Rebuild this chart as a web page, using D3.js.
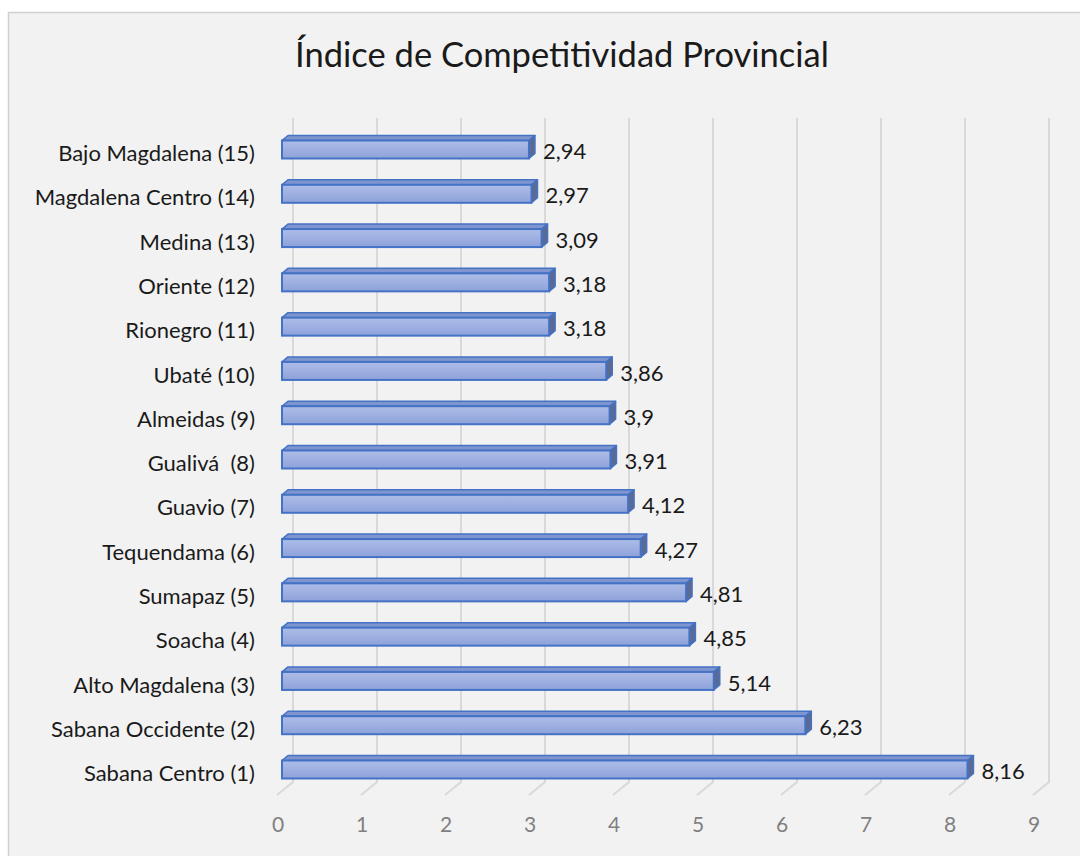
<!DOCTYPE html>
<html><head><meta charset="utf-8">
<script src="https://cdn.jsdelivr.net/npm/d3@7"></script>
<style>body{margin:0;background:#fff}svg{display:block}</style>
</head><body>
<svg id="c" width="1080" height="856"></svg>
<script>
const categories = ["Bajo Magdalena (15)","Magdalena Centro (14)","Medina (13)","Oriente (12)","Rionegro (11)","Ubaté (10)","Almeidas (9)","Gualivá  (8)","Guavio (7)","Tequendama (6)","Sumapaz (5)","Soacha (4)","Alto Magdalena (3)","Sabana Occidente (2)","Sabana Centro (1)"];
const values = [2.94,2.97,3.09,3.18,3.18,3.86,3.9,3.91,4.12,4.27,4.81,4.85,5.14,6.23,8.16];
const ticks = [0,1,2,3,4,5,6,7,8,9];
const title = "Índice de Competitividad Provincial";

const svg = d3.select("#c");
const font = "Lato, 'Open Sans', sans-serif";

svg.append("rect").attr("x",8.5).attr("y",12.5).attr("width",1080).attr("height",860)
  .attr("fill","#f2f2f2").attr("stroke","#d0d0d0").attr("stroke-width",1.5);

const x = d3.scaleLinear().domain([0,9]).range([282,282+84*9]);
const y = d3.scalePoint().domain(categories).range([149.5,769.5]);
const backDx = 11;
const bdx = 6, bdy = -5;
const bh = 18;

svg.append("text").attr("x",562).attr("y",67).attr("text-anchor","middle")
  .attr("font-family",font).attr("font-size",34.5).attr("fill","#1a1a1a").text(title);

const g = svg.append("g");
ticks.forEach(t=>{
  const bx = x(t)+backDx;
  g.append("path").attr("d",`M${bx},118 L${bx},782 L${bx-16},795`)
    .attr("fill","none").attr("stroke","#d9d9d9").attr("stroke-width",2);
  svg.append("text").attr("x",x(t)-4).attr("y",825).attr("dy","0.35em").attr("text-anchor","middle")
    .attr("font-family",font).attr("font-size",21).attr("fill","#808080").text(t);
});

const defs = svg.append("defs");
const lg = defs.append("linearGradient").attr("id","fg").attr("x1",0).attr("y1",0).attr("x2",0).attr("y2",1);
lg.append("stop").attr("offset","0%").attr("stop-color","#aebde8");
lg.append("stop").attr("offset","100%").attr("stop-color","#8ea2da");

const bars = svg.append("g").selectAll("g").data(categories).join("g");
bars.each(function(c,i){
  const sel = d3.select(this);
  const v = values[i];
  const x0 = x(0), x1 = x(v), yt = y(c)-bh/2, yb = y(c)+bh/2;
  sel.append("path").attr("d",`M${x0},${yt} L${x0+bdx},${yt+bdy} L${x1+bdx},${yt+bdy} L${x1},${yt} Z`)
    .attr("fill","#7f95d0").attr("stroke","#4472c4").attr("stroke-width",1.5).attr("stroke-linejoin","round");
  sel.append("path").attr("d",`M${x1},${yt} L${x1+bdx},${yt+bdy} L${x1+bdx},${yb+bdy} L${x1},${yb} Z`)
    .attr("fill","#5b6a93").attr("stroke","#4472c4").attr("stroke-width",1.5).attr("stroke-linejoin","round");
  sel.append("rect").attr("x",x0).attr("y",yt).attr("width",x1-x0).attr("height",bh)
    .attr("fill","url(#fg)").attr("stroke","#4472c4").attr("stroke-width",2);
  sel.append("text").attr("x",x1+14).attr("y",y(c)+2).attr("dy","0.35em")
    .attr("font-family",font).attr("font-size",22).attr("fill","#1a1a1a")
    .text(String(v).replace(".",","));
  svg.append("text").attr("x",255).attr("y",y(c)+4).attr("dy","0.35em").attr("text-anchor","end")
    .attr("font-family",font).attr("font-size",22).attr("fill","#1a1a1a")
    .style("white-space","pre").text(c);
});
</script>
</body></html>
